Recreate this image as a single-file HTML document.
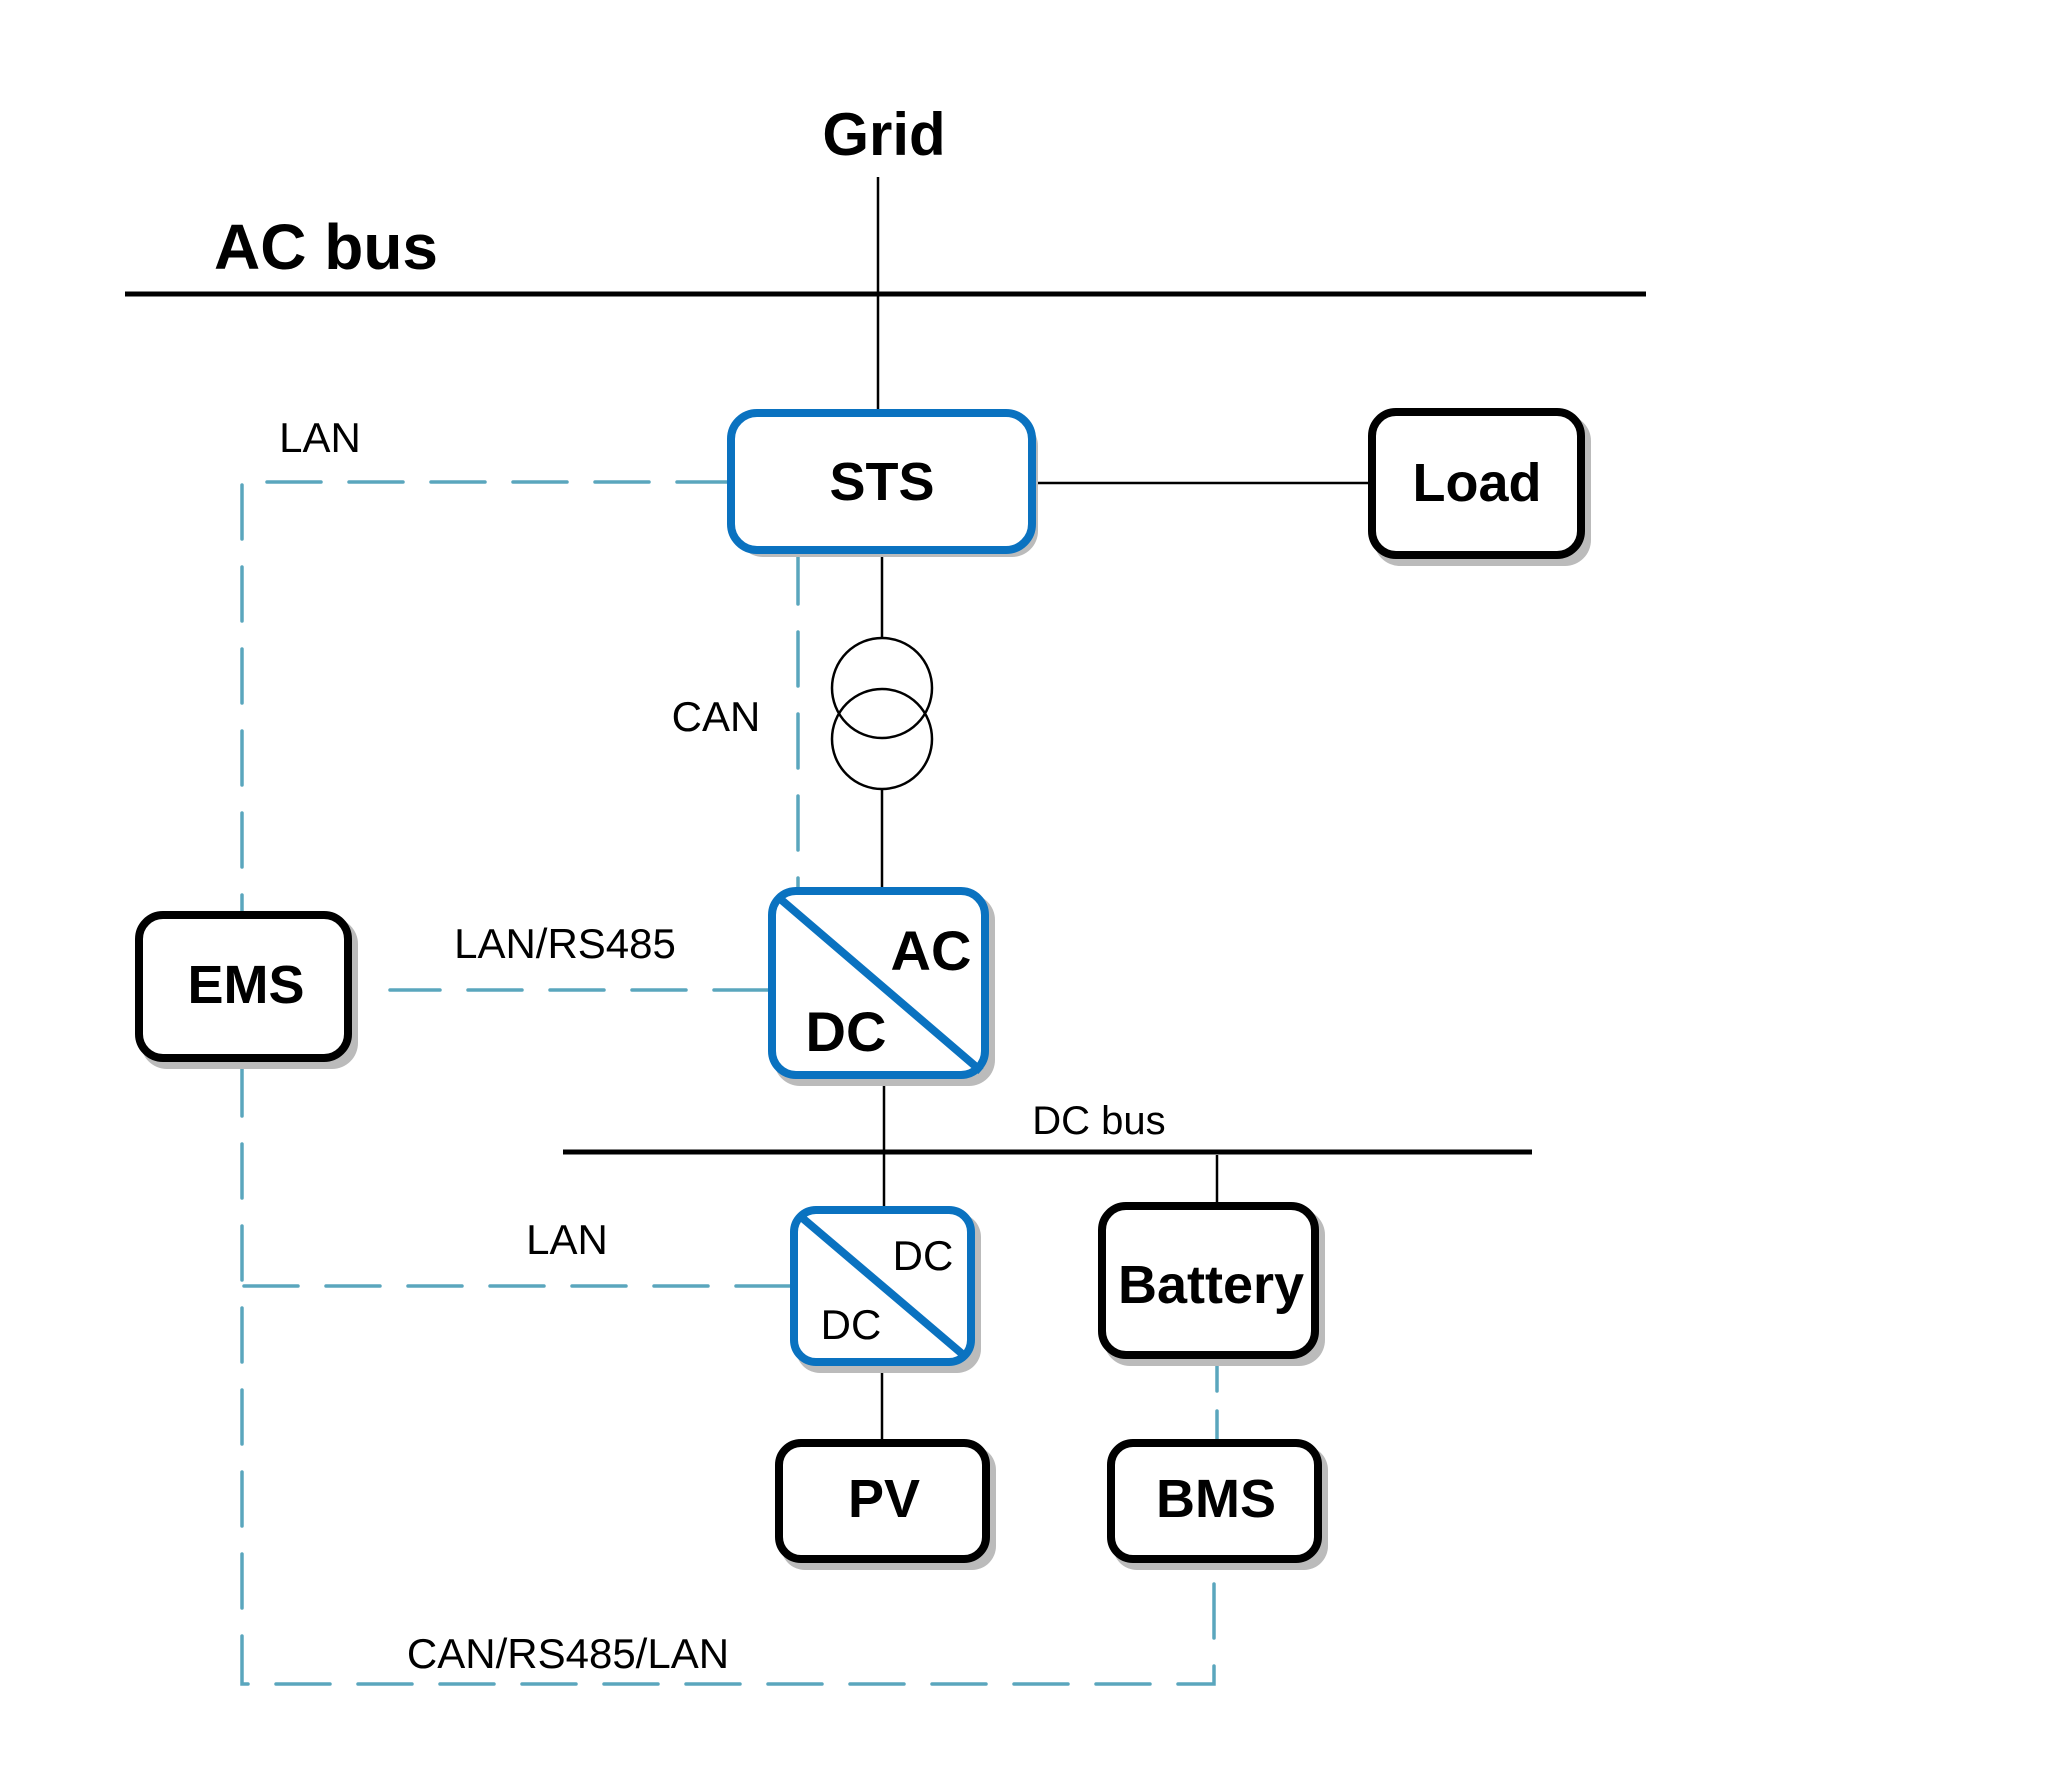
<!DOCTYPE html>
<html><head><meta charset="utf-8"><style>
html,body{margin:0;padding:0;background:#fff;}
svg{display:block;}
text{font-family:"Liberation Sans",Arial,sans-serif;fill:#000;}
</style></head><body>
<svg width="2048" height="1766" viewBox="0 0 2048 1766" xmlns="http://www.w3.org/2000/svg">
<defs>
<filter id="sh" x="-10%" y="-10%" width="130%" height="130%"><feOffset dx="6" dy="7"/></filter>
</defs>
<g transform="translate(-4,-3)">
<line x1="129" y1="297" x2="1650" y2="297" stroke="#000" stroke-width="5"/>
<line x1="882" y1="180" x2="882" y2="416" stroke="#000" stroke-width="2.5"/>
<text x="888" y="158" font-size="60" font-weight="bold" text-anchor="middle">Grid</text>
<text x="218" y="272" font-size="64" font-weight="bold">AC bus</text>

<g stroke="#5aa6bd" stroke-width="3.5" fill="none" stroke-dasharray="54,28" stroke-linecap="round">
<path d="M735 485 H246 V914"/>
<path d="M802 553 V897"/>
<path d="M772 993 H394"/>
<path d="M246 1065 V1687 H1218 V1566"/>
<path d="M794 1289 H246"/>
<path d="M1221 1366 V1442" stroke-dasharray="28,20"/>
</g>

<g stroke="#000" stroke-width="2.5" fill="none">
<line x1="1036" y1="486" x2="1372" y2="486"/>
<line x1="886" y1="553" x2="886" y2="641"/>
<circle cx="886" cy="691" r="50"/>
<circle cx="886" cy="742" r="50"/>
<line x1="886" y1="792" x2="886" y2="890"/>
<line x1="888" y1="1082" x2="888" y2="1209"/>
<line x1="1221" y1="1158" x2="1221" y2="1205"/>
<line x1="886" y1="1369" x2="886" y2="1442"/>
</g>
<line x1="567" y1="1155" x2="1536" y2="1155" stroke="#000" stroke-width="5"/>
<text x="1103" y="1137" font-size="40" text-anchor="middle">DC bus</text>

<g fill="#bbb" filter="url(#sh)">
<rect x="735" y="416" width="301" height="137" rx="26"/>
<rect x="1372" y="411" width="217" height="151" rx="26"/>
<rect x="772" y="890" width="221" height="192" rx="26"/>
<rect x="794" y="1209" width="185" height="160" rx="24"/>
<rect x="1102" y="1205" width="221" height="157" rx="26"/>
<rect x="779" y="1442" width="215" height="124" rx="24"/>
<rect x="1111" y="1442" width="215" height="124" rx="24"/>
<rect x="139" y="914" width="217" height="151" rx="26"/>
</g>

<g fill="#fff" stroke="#0a72c0" stroke-width="8">
<rect x="735" y="416" width="301" height="137" rx="26"/>
<rect x="776" y="894" width="213" height="184" rx="24"/>
<rect x="798" y="1213" width="177" height="152" rx="22"/>
</g>
<line x1="782" y1="900" x2="985" y2="1074" stroke="#0a72c0" stroke-width="8"/>
<line x1="804" y1="1219" x2="971" y2="1361" stroke="#0a72c0" stroke-width="8"/>

<g fill="#fff" stroke="#000" stroke-width="8">
<rect x="1376" y="415" width="209" height="143" rx="24"/>
<rect x="1106" y="1209" width="213" height="149" rx="24"/>
<rect x="783" y="1446" width="207" height="116" rx="22"/>
<rect x="1115" y="1446" width="207" height="116" rx="22"/>
<rect x="143" y="918" width="209" height="143" rx="24"/>
</g>

<g font-weight="bold" text-anchor="middle">
<text x="886" y="503" font-size="54">STS</text>
<text x="1481" y="504" font-size="54">Load</text>
<text x="250" y="1006" font-size="54">EMS</text>
<text x="935" y="973" font-size="56">AC</text>
<text x="850" y="1054" font-size="56">DC</text>
<text x="1215" y="1306" font-size="54">Battery</text>
<text x="888" y="1520" font-size="54">PV</text>
<text x="1220" y="1520" font-size="54">BMS</text>
</g>
<text x="927" y="1273" font-size="42" text-anchor="middle">DC</text>
<text x="855" y="1342" font-size="42" text-anchor="middle">DC</text>

<g font-size="42" text-anchor="middle">
<text x="324" y="455">LAN</text>
<text x="720" y="734">CAN</text>
<text x="569" y="961">LAN/RS485</text>
<text x="571" y="1257">LAN</text>
<text x="572" y="1671">CAN/RS485/LAN</text>
</g>
</g>
</svg>
</body></html>
